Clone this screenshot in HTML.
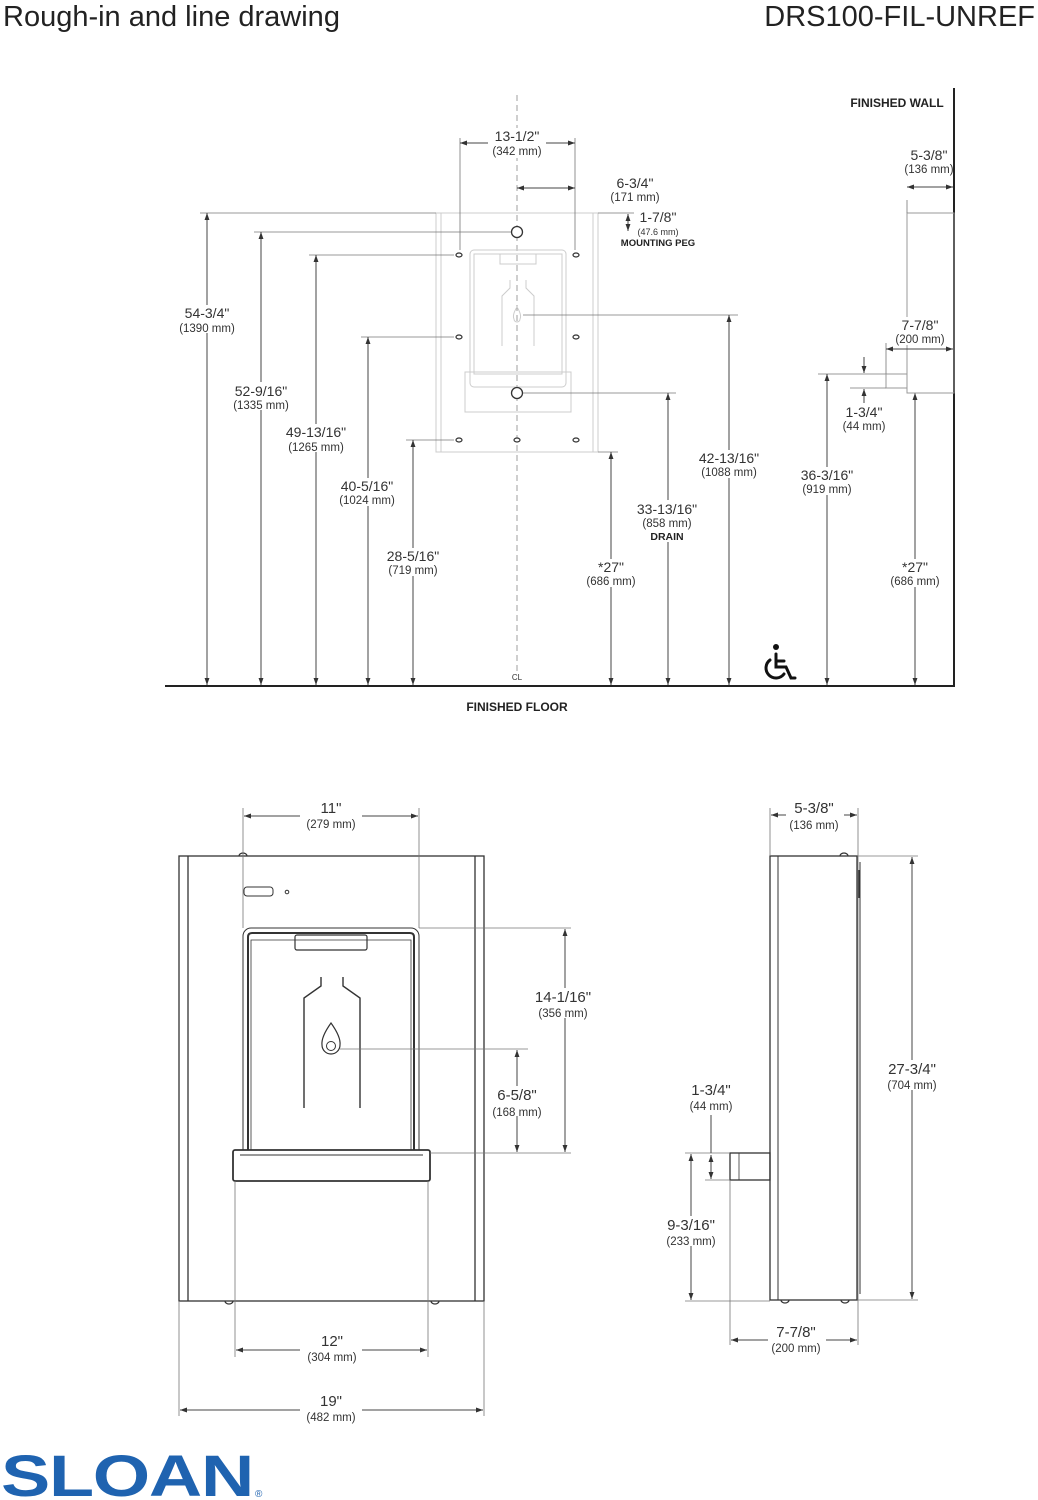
<!DOCTYPE html>
<html><head><meta charset="utf-8"><style>
html,body{margin:0;padding:0;background:#fff}
svg{display:block}
text{font-family:"Liberation Sans Narrow","Liberation Sans",sans-serif;fill:#333}
.t{font-family:"Liberation Sans",sans-serif;font-size:29px;fill:#222}
.d{font-size:14px;text-anchor:middle}
.m{font-size:11.5px;text-anchor:middle}
.b{font-size:12px;font-weight:bold;text-anchor:middle;fill:#222}
.dl{stroke:#444;stroke-width:1;fill:none}
.ex{stroke:#777;stroke-width:0.8;fill:none}
.fa{stroke:#ccc;stroke-width:1;fill:none}
.k{stroke:#333;stroke-width:1.3;fill:none}
</style></head><body>
<svg width="1038" height="1500" viewBox="0 0 1038 1500" xmlns="http://www.w3.org/2000/svg">
<defs>
<marker id="a" viewBox="0 0 10 10" refX="10" refY="5" markerWidth="7" markerHeight="7" orient="auto-start-reverse"><path d="M0,1.5 L10,5 L0,8.5z" fill="#333"/></marker>
</defs>
<text class="t" x="3" y="26">Rough-in and line drawing</text>
<text class="t" x="1035" y="26" text-anchor="end">DRS100-FIL-UNREF</text>

<line x1="165" y1="686" x2="955" y2="686" stroke="#222" stroke-width="2"/>
<line x1="954" y1="88" x2="954" y2="687" stroke="#222" stroke-width="2"/>
<text class="b" x="897" y="107">FINISHED WALL</text>
<text class="b" x="517" y="711">FINISHED FLOOR</text>
<line x1="517" y1="95" x2="517" y2="672" stroke="#888" stroke-width="0.8" stroke-dasharray="6,4"/>
<text class="m" x="517" y="680" style="font-size:8px">CL</text>

<rect x="436" y="213" width="162" height="239" class="fa"/>
<rect x="441" y="213" width="152" height="239" class="fa"/>
<rect x="470" y="250" width="96" height="137" rx="4" class="fa"/>
<rect x="474" y="254" width="88" height="120" class="fa"/>
<rect x="500" y="254" width="36" height="10" class="fa"/>
<rect x="465" y="372" width="106" height="40" class="fa"/>
<path d="M510,280 v8 l-8,8 v50 M526,280 v8 l8,8 v50" class="fa"/>
<path d="M517,307 q-5,8 -3,12 a3,3 0 0 0 6,0 q2,-4 -3,-12z" class="fa"/>
<circle cx="517" cy="232" r="5.5" fill="#fff" stroke="#333" stroke-width="1.3"/>
<circle cx="517" cy="393" r="5.5" fill="#fff" stroke="#333" stroke-width="1.3"/>
<g fill="#fff" stroke="#333" stroke-width="1.2">
<ellipse cx="459" cy="255" rx="3" ry="2"/><ellipse cx="576" cy="255" rx="3" ry="2"/>
<ellipse cx="459" cy="337" rx="3" ry="2"/><ellipse cx="576" cy="337" rx="3" ry="2"/>
<ellipse cx="459" cy="440" rx="3" ry="2"/><ellipse cx="517" cy="440" rx="3" ry="2"/><ellipse cx="576" cy="440" rx="3" ry="2"/>
</g>

<g class="ex">
<line x1="200" y1="213" x2="436" y2="213"/>
<line x1="254" y1="232" x2="511" y2="232"/>
<line x1="309" y1="255" x2="454" y2="255"/>
<line x1="361" y1="337" x2="454" y2="337"/>
<line x1="406" y1="440" x2="454" y2="440"/>
<line x1="598" y1="452" x2="618" y2="452"/>
<line x1="523" y1="393" x2="676" y2="393"/>
<line x1="523" y1="315" x2="738" y2="315"/>
<line x1="818" y1="374" x2="886" y2="374"/>
<line x1="460" y1="138" x2="460" y2="250"/>
<line x1="575" y1="138" x2="575" y2="250"/>
<line x1="598" y1="213" x2="634" y2="213"/>
</g>
<g class="dl" marker-start="url(#a)" marker-end="url(#a)">
<line x1="207" y1="213" x2="207" y2="685"/>
<line x1="261" y1="232" x2="261" y2="685"/>
<line x1="316" y1="255" x2="316" y2="685"/>
<line x1="368" y1="337" x2="368" y2="685"/>
<line x1="413" y1="440" x2="413" y2="685"/>
<line x1="611" y1="452" x2="611" y2="685"/>
<line x1="668" y1="393" x2="668" y2="685"/>
<line x1="729" y1="315" x2="729" y2="685"/>
<line x1="827" y1="374" x2="827" y2="685"/>
<line x1="915" y1="393" x2="915" y2="685"/>
<line x1="628" y1="214" x2="628" y2="231"/>
<line x1="460" y1="143" x2="575" y2="143"/>
<line x1="517" y1="188" x2="575" y2="188"/>
<line x1="907" y1="187" x2="953" y2="187"/>
</g>
<g class="dl" marker-end="url(#a)">
<line x1="864" y1="357" x2="864" y2="373"/>
<line x1="864" y1="403" x2="864" y2="389"/>
</g>
<rect x="907" y="213" width="47" height="180" class="fa" style="stroke:#999"/>
<line x1="907" y1="200" x2="907" y2="213" class="ex"/>
<rect x="886" y="374" width="21" height="14" class="fa" style="stroke:#999"/>
<line x1="886" y1="343" x2="886" y2="374" class="ex"/>
<line x1="850" y1="388" x2="886" y2="388" class="ex"/>
<g fill="#fff">
<rect x="488" y="128" width="58" height="30"/><rect x="180" y="305" width="55" height="28"/><rect x="232" y="382" width="58" height="28"/>
<rect x="284" y="424" width="64" height="28"/><rect x="338" y="478" width="60" height="28"/><rect x="385" y="548" width="58" height="28"/>
<rect x="586" y="559" width="50" height="28"/><rect x="636" y="500" width="64" height="42"/><rect x="698" y="450" width="62" height="28"/>
<rect x="800" y="467" width="56" height="28"/><rect x="890" y="559" width="50" height="28"/>
<rect x="896" y="317" width="50" height="28"/>
</g>
<line x1="886" y1="349" x2="953" y2="349" class="dl" marker-start="url(#a)" marker-end="url(#a)"/>
<text class="d" x="517" y="141">13-1/2"</text><text class="m" x="517" y="155">(342 mm)</text>
<text class="d" x="635" y="188">6-3/4"</text><text class="m" x="635" y="201">(171 mm)</text>
<text class="d" x="658" y="222">1-7/8"</text><text class="m" x="658" y="235" style="font-size:9px">(47.6 mm)</text><text class="b" x="658" y="246" style="font-size:9.5px">MOUNTING PEG</text>
<text class="d" x="207" y="318">54-3/4"</text><text class="m" x="207" y="332">(1390 mm)</text>
<text class="d" x="261" y="396">52-9/16"</text><text class="m" x="261" y="409">(1335 mm)</text>
<text class="d" x="316" y="437">49-13/16"</text><text class="m" x="316" y="451">(1265 mm)</text>
<text class="d" x="367" y="491">40-5/16"</text><text class="m" x="367" y="504">(1024 mm)</text>
<text class="d" x="413" y="561">28-5/16"</text><text class="m" x="413" y="574">(719 mm)</text>
<text class="d" x="611" y="572">*27"</text><text class="m" x="611" y="585">(686 mm)</text>
<text class="d" x="667" y="514">33-13/16"</text><text class="m" x="667" y="527">(858 mm)</text><text class="b" x="667" y="540" style="font-size:10.5px">DRAIN</text>
<text class="d" x="729" y="463">42-13/16"</text><text class="m" x="729" y="476">(1088 mm)</text>
<text class="d" x="827" y="480">36-3/16"</text><text class="m" x="827" y="493">(919 mm)</text>
<text class="d" x="915" y="572">*27"</text><text class="m" x="915" y="585">(686 mm)</text>
<text class="d" x="929" y="160">5-3/8"</text><text class="m" x="929" y="173">(136 mm)</text>
<text class="d" x="920" y="330">7-7/8"</text><text class="m" x="920" y="343">(200 mm)</text>
<text class="d" x="864" y="417">1-3/4"</text><text class="m" x="864" y="430">(44 mm)</text>
<g stroke="#111" stroke-width="3" fill="none" stroke-linecap="round">
<circle cx="776" cy="647" r="3" fill="#111" stroke="none"/>
<path d="M776,654 v13 h10 l5,11 h4"/>
<path d="M776,661 h8"/>
<path d="M770,660 a10,10 0 1 0 14,14"/>
</g>

<rect x="179" y="856" width="305" height="445" class="k"/>
<line x1="188" y1="856" x2="188" y2="1301" class="k"/>
<line x1="475" y1="856" x2="475" y2="1301" class="k"/>
<path d="M239,856 a4,3 0 0 1 8,0" class="k"/>
<path d="M225,1301 a4,3 0 0 0 8,0 M431,1301 a4,3 0 0 0 8,0" class="k"/>
<rect x="244" y="887" width="29" height="9" rx="3" class="k" style="stroke-width:1"/>
<circle cx="287" cy="892" r="1.8" class="k" style="stroke-width:1"/>
<path d="M243,1150 V936 a8,8 0 0 1 8,-8 H411 a8,8 0 0 1 8,8 V1150" class="k" style="stroke-width:1"/>
<path d="M248,1150 V937 q0,-4 4,-4 H410 q4,0 4,4 V1150" class="k" style="stroke-width:2"/>
<path d="M251,1150 V940 H411 V1150" class="k" style="stroke-width:0.8"/>
<rect x="295" y="935" width="72" height="15" rx="2" class="k" style="stroke-width:1.2"/>
<path d="M321,977 v9 l-17,12 v110 M343,977 v9 l17,12 v110" class="k" style="stroke-width:1.4"/>
<path d="M331,1023 q-10,14 -9,22 a9,9 0 0 0 18,0 q1,-8 -9,-22z" class="k" style="stroke-width:1.2"/>
<circle cx="331" cy="1046" r="4.5" class="k" style="stroke-width:1"/>
<rect x="233" y="1150" width="197" height="31" rx="2" class="k" style="stroke-width:1.8"/>
<line x1="240" y1="1155" x2="423" y2="1155" class="k" style="stroke-width:1"/>
<g class="ex">
<line x1="243" y1="808" x2="243" y2="928"/><line x1="419" y1="808" x2="419" y2="928"/>
<line x1="419" y1="928" x2="571" y2="928"/><line x1="430" y1="1153" x2="571" y2="1153"/>
<line x1="340" y1="1049" x2="528" y2="1049"/>
<line x1="235" y1="1181" x2="235" y2="1357"/><line x1="428" y1="1181" x2="428" y2="1357"/>
<line x1="179" y1="1301" x2="179" y2="1416"/><line x1="484" y1="1301" x2="484" y2="1416"/>
</g>
<g class="dl" marker-start="url(#a)" marker-end="url(#a)">
<line x1="244" y1="816" x2="418" y2="816"/>
<line x1="565" y1="929" x2="565" y2="1152"/>
<line x1="517" y1="1050" x2="517" y2="1152"/>
<line x1="236" y1="1350" x2="427" y2="1350"/>
<line x1="180" y1="1410" x2="483" y2="1410"/>
</g>
<g fill="#fff">
<rect x="300" y="800" width="62" height="30"/><rect x="534" y="988" width="62" height="30"/><rect x="490" y="1086" width="56" height="30"/>
<rect x="300" y="1332" width="62" height="30"/><rect x="300" y="1392" width="62" height="30"/>
</g>
<text class="d" x="331" y="813" style="font-size:15px">11"</text><text class="m" x="331" y="828">(279 mm)</text>
<text class="d" x="563" y="1002" style="font-size:15px">14-1/16"</text><text class="m" x="563" y="1017">(356 mm)</text>
<text class="d" x="517" y="1100" style="font-size:15px">6-5/8"</text><text class="m" x="517" y="1116">(168 mm)</text>
<text class="d" x="332" y="1346" style="font-size:15px">12"</text><text class="m" x="332" y="1361">(304 mm)</text>
<text class="d" x="331" y="1406" style="font-size:15px">19"</text><text class="m" x="331" y="1421">(482 mm)</text>

<rect x="770" y="856" width="87" height="444" class="k"/>
<line x1="778" y1="856" x2="778" y2="1300" class="k" style="stroke-width:1"/>
<line x1="860" y1="862" x2="860" y2="1294" class="k" style="stroke-width:1"/>
<line x1="859" y1="870" x2="859" y2="898" stroke="#333" stroke-width="2"/>
<path d="M840,856 a4,3 0 0 1 8,0 M781,1300 a4,3 0 0 0 8,0 M841,1300 a4,3 0 0 0 8,0" class="k"/>
<rect x="730" y="1153" width="40" height="27" class="k"/>
<line x1="739" y1="1153" x2="739" y2="1180" class="k" style="stroke-width:0.8"/>
<g class="ex">
<line x1="770" y1="808" x2="770" y2="856"/><line x1="858" y1="808" x2="858" y2="1345"/>
<line x1="858" y1="856" x2="918" y2="856"/><line x1="858" y1="1300" x2="918" y2="1300"/>
<line x1="685" y1="1153" x2="730" y2="1153"/><line x1="705" y1="1180" x2="730" y2="1180"/>
<line x1="685" y1="1301" x2="770" y2="1301"/>
<line x1="730" y1="1180" x2="730" y2="1345"/>
</g>
<g class="dl" marker-start="url(#a)" marker-end="url(#a)">
<line x1="771" y1="815" x2="857" y2="815"/>
<line x1="912" y1="857" x2="912" y2="1299"/>
<line x1="691" y1="1154" x2="691" y2="1300"/>
<line x1="731" y1="1340" x2="857" y2="1340"/>
<line x1="711" y1="1155" x2="711" y2="1179"/>
</g>
<line x1="711" y1="1115" x2="711" y2="1153" class="dl"/>
<g fill="#fff"><rect x="786" y="800" width="58" height="30"/><rect x="884" y="1060" width="58" height="30"/><rect x="662" y="1216" width="58" height="30"/><rect x="768" y="1323" width="58" height="30"/></g>
<text class="d" x="814" y="813" style="font-size:15px">5-3/8"</text><text class="m" x="814" y="829">(136 mm)</text>
<text class="d" x="912" y="1074" style="font-size:15px">27-3/4"</text><text class="m" x="912" y="1089">(704 mm)</text>
<text class="d" x="711" y="1095" style="font-size:15px">1-3/4"</text><text class="m" x="711" y="1110">(44 mm)</text>
<text class="d" x="691" y="1230" style="font-size:15px">9-3/16"</text><text class="m" x="691" y="1245">(233 mm)</text>
<text class="d" x="796" y="1337" style="font-size:15px">7-7/8"</text><text class="m" x="796" y="1352">(200 mm)</text>

<text x="1" y="1496" style="font-family:'Liberation Sans',sans-serif;font-weight:bold;font-size:58px;fill:#1f63b0;letter-spacing:-1px" textLength="252" lengthAdjust="spacingAndGlyphs">SLOAN</text>
<text x="255" y="1497" style="font-family:'Liberation Sans',sans-serif;font-size:10px;fill:#1f63b0">®</text>
</svg>
</body></html>
